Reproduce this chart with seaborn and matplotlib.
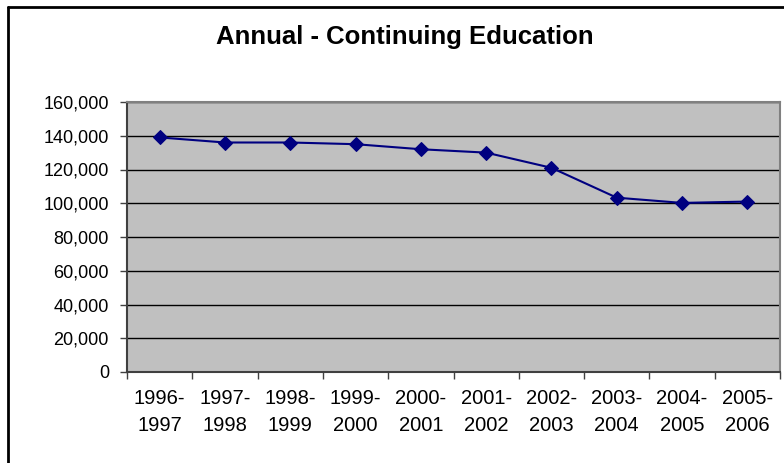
import matplotlib
matplotlib.use("Agg")
import matplotlib.pyplot as plt
import seaborn as sns
import pandas as pd
import numpy as np
from matplotlib.lines import Line2D
from matplotlib.ticker import FuncFormatter, FixedLocator

years = ["1996-\n1997", "1997-\n1998", "1998-\n1999", "1999-\n2000", "2000-\n2001",
         "2001-\n2002", "2002-\n2003", "2003-\n2004", "2004-\n2005", "2005-\n2006"]
enrollment = [139000, 136000, 136000, 135000, 132000, 130000, 121000, 103300, 100200, 101000]

df = pd.DataFrame({"pos": np.arange(len(years)), "year": years, "value": enrollment})

sns.set_style("white", {"text.color": "black", "xtick.color": "black", "ytick.color": "black"})
plt.rcParams['font.family'] = ['Liberation Sans', 'DejaVu Sans']

fig = plt.figure(figsize=(7.84, 4.63), dpi=100)
ax = fig.add_axes([127 / 784, (463 - 372) / 463, 653 / 784, 270 / 463])

ax.set_facecolor("#C0C0C0")
sns.lineplot(data=df, x="pos", y="value", ax=ax, color="#000080", marker="D",
             markersize=7.5, markeredgecolor="#000080", linewidth=1.5, zorder=3)

ax.set_xlim(-0.5, len(years) - 0.5)
ax.set_ylim(0, 160000)
ax.set_yticks(np.arange(0, 160001, 20000))
ax.yaxis.set_major_formatter(FuncFormatter(lambda v, p: f"{int(v):,}"))
ax.grid(axis="y", color="black", linewidth=1, zorder=1)
ax.set_axisbelow(True)

ax.set_xticks(df["pos"])
ax.set_xticklabels(years)
ax.xaxis.set_minor_locator(FixedLocator(np.arange(-0.5, len(years), 1)))
ax.tick_params(axis="x", which="major", length=0, pad=12, labelsize=14.5, labelcolor="black")
ax.tick_params(axis="x", which="minor", length=5, width=1, color="#404040", direction="out")
ax.tick_params(axis="y", length=5, width=1, color="#404040", direction="out", labelsize=13,
               pad=8, labelcolor="black")
ax.tick_params(axis="x", which="both", bottom=True)
ax.tick_params(axis="y", left=True)
for lbl in ax.get_xticklabels():
    lbl.set_linespacing(1.55)

ax.set_xlabel("")
ax.set_ylabel("")
for side in ["top", "right"]:
    ax.spines[side].set_color("#808080")
    ax.spines[side].set_linewidth(1.5)
for side in ["left", "bottom"]:
    ax.spines[side].set_color("#404040")
    ax.spines[side].set_linewidth(1.5)

fig.text(405 / 784, 1 - 37 / 463, "Annual - Continuing Education", ha="center", va="center",
         fontsize=18.5, fontweight="bold", color="black")

# outer chart frame (left and top edges only visible)
fig.add_artist(Line2D([8 / 784, 8 / 784], [0, 1 - 7 / 463], color="black", linewidth=2,
                      transform=fig.transFigure))
fig.add_artist(Line2D([8 / 784, 1], [1 - 7 / 463, 1 - 7 / 463], color="black", linewidth=2,
                      transform=fig.transFigure))

fig.savefig("out.png", dpi=100)
